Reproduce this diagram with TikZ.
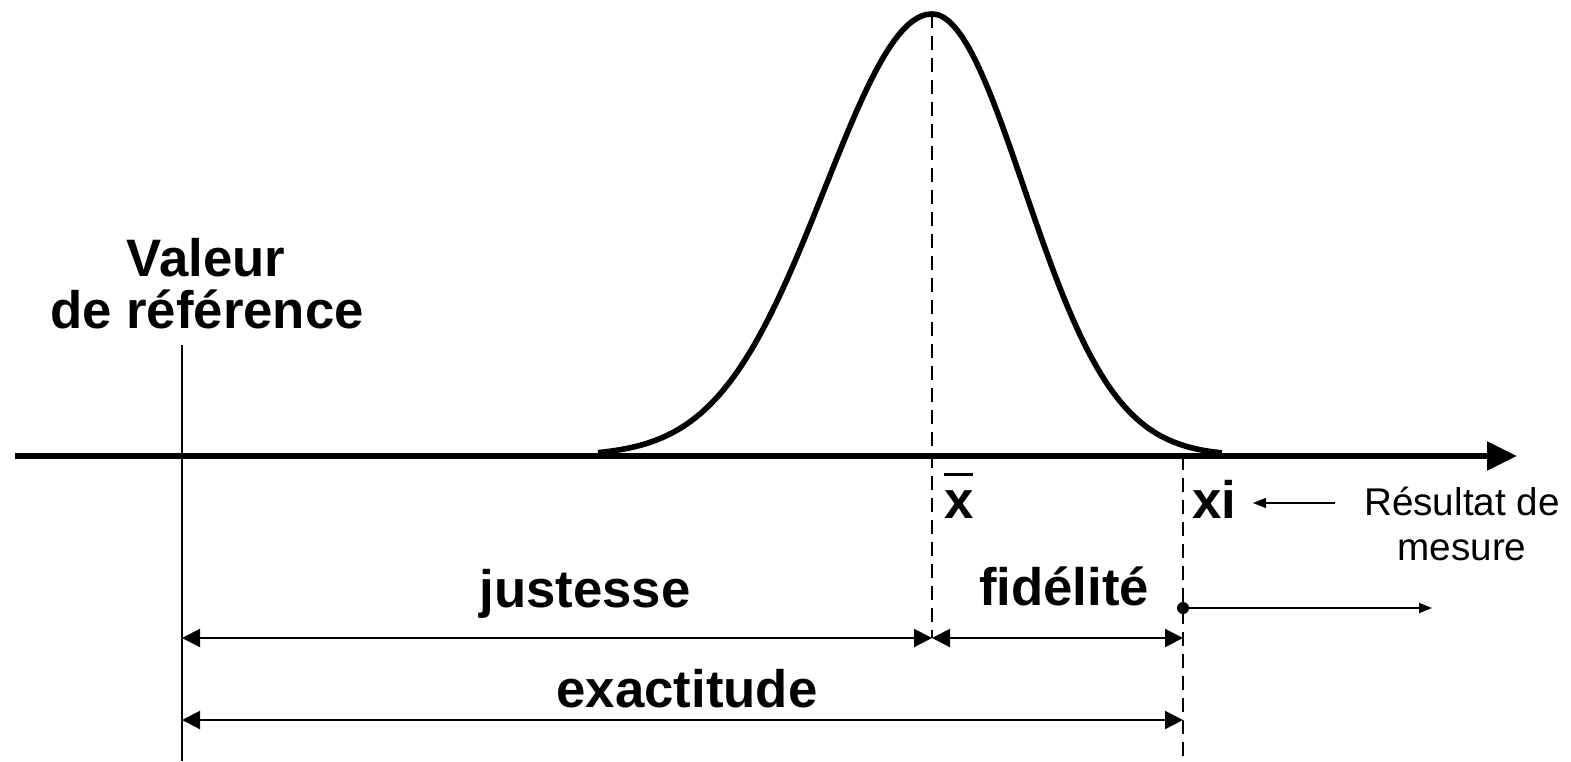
\documentclass[tikz,border=0pt]{standalone}
\usepackage{fontspec}
\setmainfont{Liberation Sans}
\usepackage{tikz}
\usetikzlibrary{positioning,calc,arrows.meta}

\tikzset{
  lbl/.style={font=\fontsize{15}{18}\selectfont\bfseries, inner sep=0pt, anchor=base},
  note/.style={font=\fontsize{11}{12.8}\selectfont, inner sep=0pt, align=center, anchor=base},
  dim/.style={line width=0.6pt, {Triangle[length=1.8mm,width=1.8mm]}-{Triangle[length=1.8mm,width=1.8mm]}},
  thin arrow/.style={line width=0.4pt, -{Triangle[length=1.3mm,width=1mm]}},
  guide/.style={line width=0.6pt, dash pattern=on 1.4mm off 0.8mm}
}

\begin{document}
\begin{tikzpicture}
  \useasboundingbox (0,0) rectangle (15.71,7.61);

  % Axis
  \coordinate (ax0) at (0.15,3.05);
  \coordinate (ax1) at (15.17,3.05);
  \draw[line width=1.6pt, -{Triangle[length=3mm,width=2.8mm]}] (ax0) -- (ax1);

  % Gaussian curve
  \draw[line width=1.6pt, line join=round] plot[smooth, samples=50, domain=5.98:9.32]
    (\x, {3.05+4.42*exp(-((\x-9.32)/1.07)^2/2)});
  \draw[line width=1.6pt, line join=round] plot[smooth, samples=50, domain=9.32:12.22]
    (\x, {3.05+4.42*exp(-((\x-9.32)/0.92)^2/2)});

  % Vertical lines
  \coordinate (ref top) at (1.82,4.16);
  \coordinate (ref bot) at (1.82,0);
  \coordinate (mean top) at (9.32,7.47);
  \coordinate (mean bot) at (9.32,1.23);
  \coordinate (xi top) at (11.83,3.05);
  \coordinate (xi bot) at (11.83,0);
  \draw[line width=0.6pt] (ref top) -- (ref bot);
  \draw[guide] (mean top) -- (mean bot);
  \draw[guide] (xi top) -- (xi bot);

  % Labels
  \node[lbl] (valeur) at (2.06,4.85) {Valeur};
  \node[lbl] (deref) at (2.07,4.33) {de référence};
  \node[lbl] (xbar) at (9.59,2.43) {\rlap{\raisebox{12pt}{\rule{0.29cm}{0.9pt}}}x};
  \node[lbl] (xi) at (12.14,2.43) {xi};
  \node[note] (result) at (14.62,2.01) {Résultat de\\mesure};
  \node[lbl] (justesse) at (5.85,1.54) {justesse};
  \node[lbl] (fidelite) at (10.64,1.56) {fidélité};
  \node[lbl] (exactitude) at (6.87,0.54) {exactitude};

  % Dimension arrows
  \coordinate (j1) at (1.82,1.23);
  \coordinate (j2) at (11.83,1.23);
  \coordinate (e1) at (1.82,0.41);
  \coordinate (e2) at (11.83,0.41);
  \draw[dim] (j1) -- (mean bot);
  \draw[dim] (mean bot) -- (j2);
  \draw[dim] (e1) -- (e2);

  % Result arrows
  \coordinate (r0) at (13.35,2.58);
  \coordinate (r1) at (12.53,2.58);
  \draw[thin arrow] (r0) -- (r1);
  \coordinate (dot) at (11.83,1.53);
  \coordinate (dot end) at (14.32,1.53);
  \fill (dot) circle (0.6mm);
  \draw[thin arrow] (dot) -- (dot end);
\end{tikzpicture}
\end{document}
